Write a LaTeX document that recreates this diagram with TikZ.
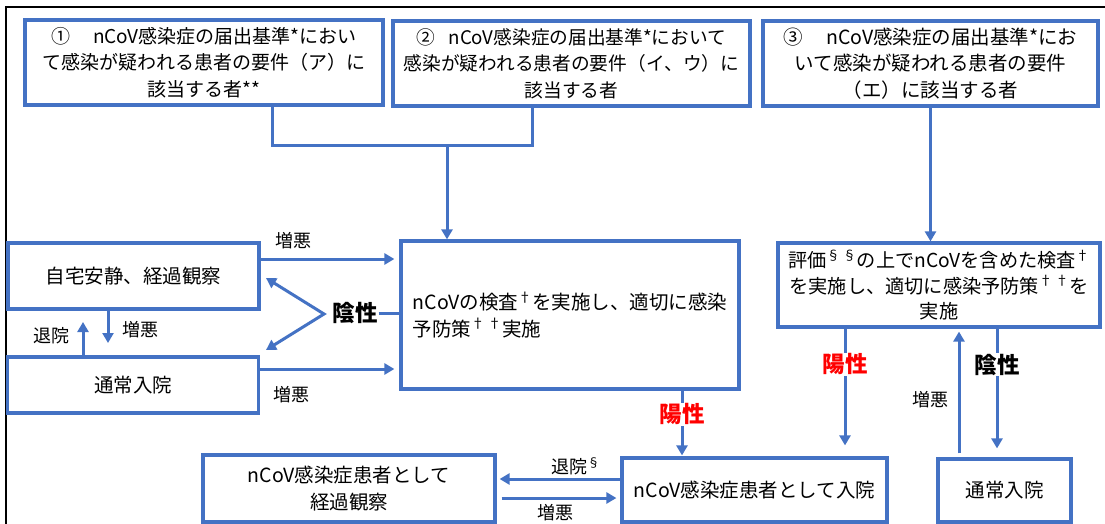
\documentclass[tikz,border=0pt]{standalone}
\usepackage{fontspec}
\setmainfont{Noto Sans CJK JP}
\usetikzlibrary{arrows.meta}
\definecolor{ofblue}{RGB}{68,114,196}
\definecolor{ofred}{RGB}{255,0,0}
\begin{document}
\begin{tikzpicture}[x=1pt,y=-1pt,
  box/.style={draw=ofblue, line width=3.2pt, fill=white, inner sep=0pt, align=center, font=\fontsize{19.5}{26.5}\selectfont},
  conn/.style={draw=ofblue, line width=3pt},
  arr/.style={conn, -{Triangle[length=10pt,width=11pt]}},
  darr/.style={conn, {Triangle[length=10pt,width=11pt]}-{Triangle[length=10pt,width=11pt]}},
  lab/.style={font=\fontsize{18}{20}\selectfont, inner sep=1pt},
  blab/.style={font=\fontsize{22.5}{24}\selectfont\bfseries, inner sep=1pt},
  rlab/.style={blab, text=ofred}]
\useasboundingbox (0,0) rectangle (1105,524);
\fill[white] (0,0) rectangle (1105,524);
\draw[black, line width=2pt] (6,524) -- (6,7) -- (1105,7);

% top boxes
\node[box, minimum width=358pt, minimum height=85pt, font=\fontsize{19}{26.5}\selectfont] (b1) at (204,62.5)
  {①\hspace{1.2em}nCoV感染症の届出基準*におい\\て感染が疑われる患者の要件（ア）に\\該当する者**};
\node[box, minimum width=357pt, minimum height=85pt, font=\fontsize{18.7}{26.5}\selectfont] (b2) at (571.5,63.5)
  {②\hspace{0.7em}nCoV感染症の届出基準*において\\感染が疑われる患者の要件（イ、ウ）に\\該当する者};
\node[box, minimum width=335pt, minimum height=85pt] (b3) at (930.5,63.5)
  {③\hspace{1.2em}nCoV感染症の届出基準*にお\\いて感染が疑われる患者の要件\\（エ）に該当する者};

% middle boxes
\node[box, minimum width=338pt, minimum height=148pt, align=left] (c) at (570,315)
  {nCoVの検査\textsuperscript{†}を実施し、適切に感染\\予防策\textsuperscript{† †}実施};
\node[box, minimum width=251pt, minimum height=66pt] (h) at (133.5,276) {自宅安静、経過観察};
\node[box, minimum width=251pt, minimum height=56pt] (n) at (133,385) {通常入院};
\node[box, minimum width=322pt, minimum height=84pt, font=\fontsize{19.2}{25.5}\selectfont] (e) at (939,285)
  {評価\textsuperscript{§ §}の上でnCoVを含めた検査\textsuperscript{†}\\を実施し、適切に感染予防策\textsuperscript{† †}を\\実施};

% bottom boxes
\node[box, minimum width=265pt, minimum height=64pt] (p) at (754.5,490) {nCoV感染症患者として入院};
\node[box, minimum width=292pt, minimum height=67pt] (o) at (349,488.5) {nCoV感染症患者として\\経過観察};
\node[box, minimum width=133pt, minimum height=63pt] (r) at (1004.5,490.5) {通常入院};

% top joins
\coordinate (j1) at (272,145);
\coordinate (j2) at (532,145);
\coordinate (j3) at (447,145);
\draw[conn] (b1.south -| j1) -- (j1) -- (j2) -- (b2.south -| j2);
\draw[arr] (j3) -- (c.north -| j3);
\draw[arr] (b3.south) -- (e.north -| b3.south);

% left side
\coordinate (ya) at (0,259);
\coordinate (yb) at (0,369);
\draw[arr, shorten >=5pt] (h.east |- ya) -- (c.west |- ya);
\draw[arr, shorten >=5pt] (n.east |- yb) -- (c.west |- yb);
\node[lab] (l1) at (293,241) {増悪};
\node[lab] (l2) at (291,395) {増悪};

\node[blab] (neg) at (355,313) {陰性};
\draw[conn] (neg.east) -- (c.west |- neg);
\coordinate (v) at (324,314);
\coordinate (ta) at (266,278);
\coordinate (tb) at (266,350);
\draw[darr, line join=miter] (ta) -- (v) -- (tb);

\coordinate (xd) at (108,343);
\coordinate (xu) at (83,322);
\draw[arr] (h.south -| xd) -- (xd);
\draw[arr] (n.north -| xu) -- (xu);
\node[lab] (l3) at (140,330) {増悪};
\node[lab] (l4) at (51,336) {退院};

% centre to positive
\coordinate (xc) at (682,0);
\draw[arr, shorten >=1pt] (c.south -| xc) -- node[rlab, fill=white, pos=0.36] (pos1) {陽性} (p.north -| xc);

% bottom horizontal
\coordinate (yc) at (0,479);
\coordinate (yd) at (0,498);
\draw[arr, shorten >=3pt] (p.west |- yc) -- (o.east |- yc);
\draw[arr, shorten <=5pt, shorten >=4pt] (o.east |- yd) -- (p.west |- yd);
\node[lab] (l5) at (576,466) {退院\textsuperscript{§}};
\node[lab] (l6) at (555,513) {増悪};

% right side
\coordinate (xe) at (845,0);
\coordinate (xf) at (997,0);
\coordinate (xg) at (959,0);
\draw[arr, shorten >=11pt] (e.south -| xe) -- node[rlab, fill=white, pos=0.28] (pos2) {陽性} (p.north -| xe);
\draw[arr, shorten >=9pt] (e.south -| xf) -- node[blab, fill=white, pos=0.28] (neg2) {陰性} (r.north -| xf);
\draw[arr, shorten <=4pt, shorten >=3pt] (r.north -| xg) -- (e.south -| xg);
\node[lab] (l7) at (930,400) {増悪};
\end{tikzpicture}
\end{document}
